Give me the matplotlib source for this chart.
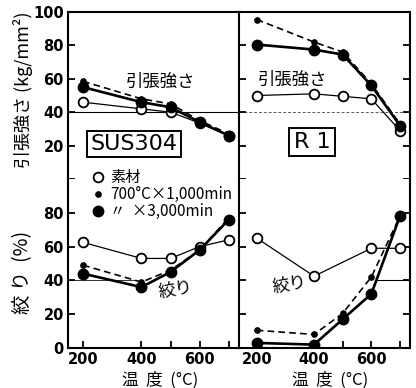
import numpy as np
import matplotlib.pyplot as plt
from matplotlib.lines import Line2D

plt.rcParams['font.family'] = ['Noto Sans CJK JP', 'DejaVu Sans']

# 温度 (°C)
temps = [200, 400, 500, 600, 700]
temps_r1_raw = [200, 400, 600, 700]

# 引張強さ (kg/mm2)
sus_ts_raw = [46, 42, 40, 33.5, 26]
sus_ts_1000 = [58.5, 48, 45, 35, 27]
sus_ts_3000 = [55, 46, 43, 34, 26]
r1_ts_raw = [50, 51, 49.5, 48, 29]
r1_ts_1000 = [95.5, 82, 76, 57, 33]
r1_ts_3000 = [80.5, 77.5, 74.5, 56, 32]

# 絞り (%)
sus_ra_raw = [62.5, 53, 53, 60, 64]
sus_ra_1000 = [49, 39, 46, 58, 77]
sus_ra_3000 = [44, 36, 45, 58, 76]
r1_ra_raw = [65, 42.5, 59, 59]
r1_ra_1000 = [10.5, 8, 20.5, 42, 78]
r1_ra_3000 = [3, 2, 17, 32, 78]

ts_ticks = [0, 20, 40, 60, 80, 100]
ts_labels = ['', '20', '40', '60', '80', '100']
ra_ticks = [0, 20, 40, 60, 80]
x_ticks = [200, 400, 500, 600, 700]
x_labels = ['200', '400', '', '600', '']

W, H = 416, 388


def px(x, y):
    # pixel position -> figure fraction
    return x / W, 1 - y / H


raw_style = dict(marker='o', ms=7, mfc='white', mec='black', mew=1.3, color='black', lw=0.9)
s1000_style = dict(marker='o', ms=3.8, mfc='black', mec='black', color='black', lw=1.2, ls=(0, (4, 2.5)))
s3000_style = dict(marker='o', ms=7.5, mfc='black', mec='black', color='black', lw=1.9)

fig = plt.figure(figsize=(W / 100, H / 100), dpi=100)

L, M, R = 68 / W, 239 / W, 410 / W
T, MID, B = 1 - 12 / H, 1 - 179 / H, 1 - 348 / H

ax_tl = fig.add_axes([L, MID, M - L, T - MID])
ax_tr = fig.add_axes([M, MID, R - M, T - MID])
ax_bl = fig.add_axes([L, B, M - L, MID - B])
ax_br = fig.add_axes([M, B, R - M, MID - B])

ax_tl.plot(temps, sus_ts_raw, **raw_style)
ax_tl.plot(temps, sus_ts_1000, **s1000_style)
ax_tl.plot(temps, sus_ts_3000, **s3000_style)
ax_tr.plot(temps, r1_ts_raw, **raw_style)
ax_tr.plot(temps, r1_ts_1000, **s1000_style)
ax_tr.plot(temps, r1_ts_3000, **s3000_style)
ax_bl.plot(temps, sus_ra_raw, **raw_style)
ax_bl.plot(temps, sus_ra_1000, **s1000_style)
ax_bl.plot(temps, sus_ra_3000, **s3000_style)
ax_br.plot(temps_r1_raw, r1_ra_raw, **raw_style)
ax_br.plot(temps, r1_ra_1000, **s1000_style)
ax_br.plot(temps, r1_ra_3000, **s3000_style)

# 40 の基準線
ax_tl.axhline(40, color='black', lw=0.8, zorder=0)
ax_tr.axhline(40, color='0.35', lw=0.7, ls=(0, (3, 2)), zorder=0)
ax_bl.axhline(40, xmax=0.4, color='0.2', lw=0.7, zorder=0)
ax_br.axhline(40, xmin=0.8, color='black', lw=0.8, zorder=0)

for ax in [ax_tl, ax_tr]:
    ax.set_ylim(0, 100)
    ax.spines['bottom'].set_visible(False)
    ax.tick_params(axis='x', bottom=False, labelbottom=False)
for ax in [ax_bl, ax_br]:
    ax.set_ylim(0, 100)
    ax.spines['top'].set_visible(False)
    ax.set_xticks(x_ticks)
    ax.set_xticklabels(x_labels)
ax_tl.set_xlim(148, 735)
ax_bl.set_xlim(148, 735)
ax_tr.set_xlim(138, 735)
ax_br.set_xlim(138, 735)

ax_tl.set_yticks(ts_ticks)
ax_tl.set_yticklabels(ts_labels)
ax_bl.set_yticks(ra_ticks)
ax_tr.set_yticks(ts_ticks)
ax_br.set_yticks(ra_ticks)

for ax in [ax_tl, ax_tr, ax_bl, ax_br]:
    for s in ax.spines.values():
        s.set_linewidth(1.5)
    ax.tick_params(direction='in', length=5, width=1.3, labelsize=10.5, pad=3)
    for lab in ax.get_xticklabels() + ax.get_yticklabels():
        lab.set_fontweight('bold')
        lab.set_family('DejaVu Sans')
for ax in [ax_tr, ax_br]:
    ax.tick_params(axis='y', left=True, right=True, labelleft=False)
ax_bl.tick_params(axis='x', pad=3)
ax_br.tick_params(axis='x', pad=3)
ax_tl.spines['right'].set_visible(False)
ax_bl.spines['right'].set_visible(False)

# 注記
fig.text(*px(161, 82), '引張強さ', fontsize=12.5, ha='center', va='center')
fig.text(*px(293, 80), '引張強さ', fontsize=12.5, ha='center', va='center')
fig.text(*px(134, 144), 'SUS304', fontsize=16, ha='center', va='center', family='DejaVu Sans',
         bbox=dict(boxstyle='square,pad=0.15', fc='white', ec='black', lw=1.4))
fig.text(*px(312, 142), 'R 1', fontsize=16, ha='center', va='center', family='DejaVu Sans',
         bbox=dict(boxstyle='square,pad=0.2', fc='white', ec='black', lw=1.4))
fig.text(*px(176, 290), '絞り', fontsize=12.5, ha='center', va='center', rotation=10)
fig.text(*px(290, 285), '絞り', fontsize=12.5, ha='center', va='center', rotation=10)

# 凡例
legend_rows = [(177, raw_style, '素材'),
               (194, s1000_style, '700°C×1,000min'),
               (211, s3000_style, '〃  ×3,000min')]
for y, st, label in legend_rows:
    mk = {k: v for k, v in st.items() if k in ('marker', 'ms', 'mfc', 'mec', 'mew', 'color')}
    fig.add_artist(Line2D([px(98, y)[0]], [px(98, y)[1]], transform=fig.transFigure, ls='none', **mk))
    fig.text(*px(110, y), label, fontsize=11, ha='left', va='center')

# 軸ラベル
fig.text(*px(23, 90), '引張強さ (kg/mm²)', fontsize=13, rotation=90, ha='center', va='center')
fig.text(*px(23, 272), '絞 り  (%)', fontsize=14, rotation=90, ha='center', va='center')
fig.text(*px(160, 380), '温  度  (°C)', fontsize=12, ha='center', va='center')
fig.text(*px(330, 380), '温  度  (°C)', fontsize=12, ha='center', va='center')

fig.savefig('out.png', dpi=100)
